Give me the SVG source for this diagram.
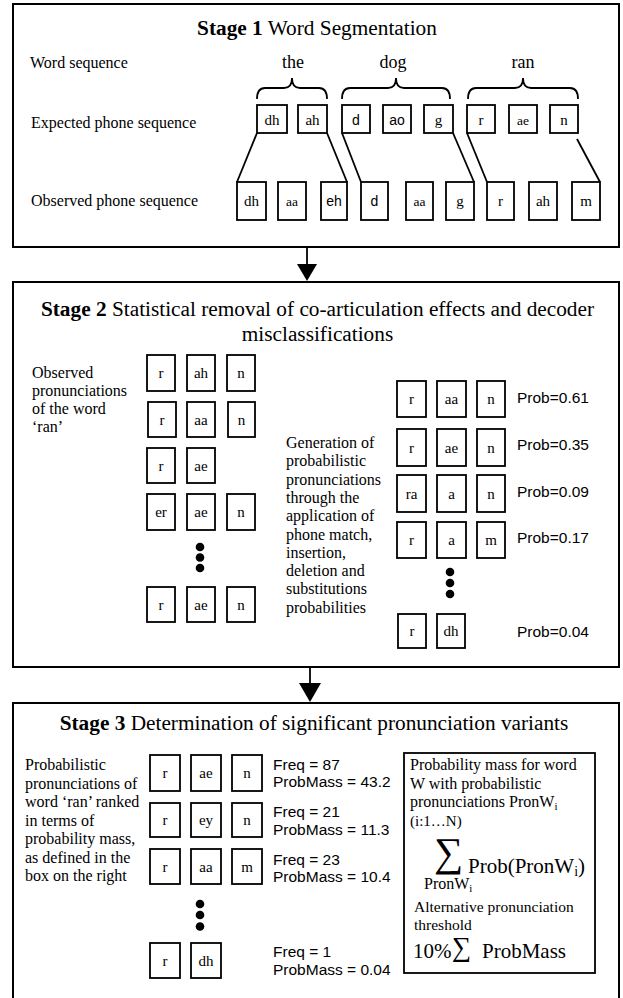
<svg xmlns="http://www.w3.org/2000/svg" width="623" height="998" viewBox="0 0 623 998">
<style>
.frame{fill:#fff;stroke:#000;stroke-width:2}
.ph rect{fill:#fff;stroke:#000;stroke-width:1.8}
.ph text{font-family:"Liberation Serif",serif;font-size:15px;text-anchor:middle}
.ph text.s{font-family:"Liberation Sans",sans-serif;font-size:14px}
.ph text.m{font-size:13.5px}
.t{font-family:"Liberation Serif",serif;font-size:21.3px}
.b{font-weight:bold}
.lab{font-family:"Liberation Serif",serif;font-size:16px}
.sans{font-family:"Liberation Sans",sans-serif;font-size:15.5px}
.ln{fill:none;stroke:#000;stroke-width:1.8}
.dot{fill:#000}
</style>
<rect width="623" height="998" fill="#fff"/>
<g id="stage1">
<rect class="frame" x="13" y="4" width="606" height="243"/>
<text class="t" x="317" y="35" text-anchor="middle"><tspan class="b">Stage 1</tspan> Word Segmentation</text>
<text class="lab" x="30" y="68">Word sequence</text>
<text class="lab" x="31" y="128">Expected phone sequence</text>
<text class="lab" x="31" y="206">Observed phone sequence</text>
<text class="lab" x="293" y="68" text-anchor="middle" style="font-size:18px">the</text>
<text class="lab" x="393" y="68" text-anchor="middle" style="font-size:18px">dog</text>
<text class="lab" x="523" y="68" text-anchor="middle" style="font-size:18px">ran</text>
<path class="ln" d="M257,99 Q257,88 265,88 L284,88 Q292,88 292,78 Q292,88 300,88 L319,88 Q327,88 327,99"/>
<path class="ln" d="M342,99 Q342,88 350,88 L388,88 Q396,88 396,78 Q396,88 404,88 L442,88 Q450,88 450,99"/>
<path class="ln" d="M468,99 Q468,88 476,88 L515,88 Q523,88 523,78 Q523,88 531,88 L570,88 Q578,88 578,99"/>
</g>
<g id="expected" class="ph">
<rect x="257" y="105" width="30" height="28"/><text x="272" y="125">dh</text>
<rect x="298" y="105" width="29" height="28"/><text x="312.5" y="125">ah</text>
<rect x="342" y="105" width="28" height="28"/><text class="s" x="356" y="125">d</text>
<rect x="383" y="105" width="28" height="28"/><text class="s" x="397" y="125">ao</text>
<rect x="424" y="105" width="29" height="28"/><text x="438.5" y="125">g</text>
<rect x="467" y="105" width="28" height="28"/><text x="481" y="125">r</text>
<rect x="509" y="105" width="28" height="28"/><text class="m" x="523" y="125">ae</text>
<rect x="550" y="105" width="28" height="28"/><text x="564" y="125">n</text>
</g>
<g id="observed" class="ph">
<rect x="237" y="182" width="29" height="38"/><text x="251.5" y="206">dh</text>
<rect x="278" y="182" width="28" height="38"/><text class="m" x="292" y="206">aa</text>
<rect x="321" y="182" width="26" height="38"/><text class="s" x="334" y="206">eh</text>
<rect x="361" y="182" width="27" height="38"/><text class="s" x="374.5" y="206">d</text>
<rect x="406" y="182" width="27" height="38"/><text class="m" x="419.5" y="206">aa</text>
<rect x="446" y="182" width="28" height="38"/><text x="460" y="206">g</text>
<rect x="487" y="182" width="27" height="38"/><text x="500.5" y="206">r</text>
<rect x="529" y="182" width="28" height="38"/><text x="543" y="206">ah</text>
<rect x="572" y="182" width="28" height="38"/><text x="586" y="206">m</text>
</g>
<g id="connectors">
<line class="ln" x1="257" y1="133" x2="237" y2="182"/>
<line class="ln" x1="327" y1="133" x2="347" y2="182"/>
<line class="ln" x1="342" y1="133" x2="361" y2="182"/>
<line class="ln" x1="453" y1="133" x2="474" y2="182"/>
<line class="ln" x1="467" y1="133" x2="487" y2="182"/>
<line class="ln" x1="577" y1="139" x2="600" y2="182"/>
<line class="ln" x1="307" y1="247" x2="307" y2="266"/>
<polygon points="297,264 317,264 307,281"/>
<line class="ln" x1="310" y1="667" x2="310" y2="685"/>
<polygon points="299,683 321,683 310,702"/>
<path class="ln" d="M259,401.5 L265,401.5 L265,438 L259,438"/>
<line class="ln" x1="265" y1="419" x2="387" y2="419"/>
<polygon points="316,412 331,419 316,426"/>
<path class="ln" d="M395,374 L387,374 L387,655 L395,655"/>
</g>
<g id="stage2">
<rect class="frame" x="13" y="282" width="606" height="385"/>
<text class="t" x="317.5" y="316" text-anchor="middle"><tspan class="b">Stage 2</tspan> Statistical removal of co-articulation effects and decoder</text>
<text class="t" x="317.5" y="341" text-anchor="middle">misclassifications</text>
<text class="lab" x="32"><tspan x="32" y="378">Observed</tspan><tspan x="32" y="396">pronunciations</tspan><tspan x="32" y="414">of the word</tspan><tspan x="32" y="432">‘ran’</tspan></text>
<text class="lab" x="286"><tspan x="286" y="448">Generation of</tspan><tspan x="286" y="466.3">probabilistic</tspan><tspan x="286" y="484.6">pronunciations</tspan><tspan x="286" y="502.9">through the</tspan><tspan x="286" y="521.2">application of</tspan><tspan x="286" y="539.5">phone match,</tspan><tspan x="286" y="557.8">insertion,</tspan><tspan x="286" y="576.1">deletion and</tspan><tspan x="286" y="594.4">substitutions</tspan><tspan x="286" y="612.7">probabilities</tspan></text>
</g>
<g id="observed-prons" class="ph">
<rect x="147" y="355" width="28" height="36"/><text x="161" y="378">r</text>
<rect x="187" y="355" width="28" height="36"/><text x="201" y="378">ah</text>
<rect x="227" y="355" width="28" height="36"/><text x="241" y="378">n</text>
<rect x="148" y="402" width="28" height="35"/><text x="162" y="424.5">r</text>
<rect x="187" y="402" width="28" height="35"/><text x="201" y="424.5">aa</text>
<rect x="228" y="402" width="27" height="35"/><text x="241.5" y="424.5">n</text>
<rect x="147" y="448" width="28" height="35"/><text x="161" y="470.5">r</text>
<rect x="187" y="448" width="28" height="35"/><text x="201" y="470.5">ae</text>
<rect x="147" y="494" width="28" height="36"/><text x="161" y="517">er</text>
<rect x="187" y="494" width="28" height="36"/><text x="201" y="517">ae</text>
<rect x="227" y="494" width="28" height="36"/><text x="241" y="517">n</text>
<rect x="147" y="587" width="28" height="35"/><text x="161" y="609.5">r</text>
<rect x="187" y="587" width="28" height="35"/><text x="201" y="609.5">ae</text>
<rect x="227" y="587" width="28" height="35"/><text x="241" y="609.5">n</text>
<circle class="dot" cx="200" cy="547" r="4.3"/><circle class="dot" cx="200" cy="557.5" r="4.3"/><circle class="dot" cx="200" cy="568" r="4.3"/>
</g>
<g id="prob-prons" class="ph">
<rect x="397" y="381" width="29" height="36"/><text x="411.5" y="404">r</text>
<rect x="437" y="381" width="29" height="36"/><text x="451.5" y="404">aa</text>
<rect x="477" y="381" width="28" height="36"/><text x="491" y="404">n</text>
<rect x="397" y="429" width="29" height="37"/><text x="411.5" y="452.5">r</text>
<rect x="437" y="429" width="29" height="37"/><text x="451.5" y="452.5">ae</text>
<rect x="477" y="429" width="28" height="37"/><text x="491" y="452.5">n</text>
<rect x="397" y="475" width="29" height="37"/><text x="411.5" y="498.5">ra</text>
<rect x="437" y="475" width="29" height="37"/><text x="451.5" y="498.5">a</text>
<rect x="477" y="475" width="28" height="37"/><text x="491" y="498.5">n</text>
<rect x="397" y="522" width="29" height="36"/><text x="411.5" y="545">r</text>
<rect x="437" y="522" width="29" height="36"/><text x="451.5" y="545">a</text>
<rect x="477" y="522" width="28" height="36"/><text x="491" y="545">m</text>
<rect x="398" y="614" width="28" height="34"/><text x="412" y="636">r</text>
<rect x="437" y="614" width="28" height="34"/><text x="451" y="636">dh</text>
<circle class="dot" cx="450" cy="572" r="4.3"/><circle class="dot" cx="450" cy="583" r="4.3"/><circle class="dot" cx="450" cy="594" r="4.3"/>
</g>
<g id="prob-values">
<text class="sans" x="517" y="403">Prob=0.61</text>
<text class="sans" x="517" y="450">Prob=0.35</text>
<text class="sans" x="517" y="497">Prob=0.09</text>
<text class="sans" x="517" y="543">Prob=0.17</text>
<text class="sans" x="517" y="637">Prob=0.04</text>
</g>
<g id="stage3">
<rect class="frame" x="13" y="703" width="606" height="300"/>
<text class="t" x="314" y="730" text-anchor="middle"><tspan class="b">Stage 3</tspan> Determination of significant pronunciation variants</text>
<text class="lab"><tspan x="25" y="770">Probabilistic</tspan><tspan x="25" y="788.5">pronunciations of</tspan><tspan x="25" y="807">word ‘ran’ ranked</tspan><tspan x="25" y="825.5">in terms of</tspan><tspan x="25" y="844">probability mass,</tspan><tspan x="25" y="862.5">as defined in the</tspan><tspan x="25" y="881">box on the right</tspan></text>
</g>
<g id="ranked-prons" class="ph">
<rect x="150" y="755" width="30" height="36"/><text x="165" y="778">r</text>
<rect x="191" y="755" width="30" height="36"/><text x="206" y="778">ae</text>
<rect x="232" y="755" width="30" height="36"/><text x="247" y="778">n</text>
<rect x="150" y="803" width="30" height="34"/><text x="165" y="825">r</text>
<rect x="191" y="803" width="30" height="34"/><text x="206" y="825">ey</text>
<rect x="232" y="803" width="30" height="34"/><text x="247" y="825">n</text>
<rect x="150" y="849" width="30" height="35"/><text x="165" y="871.5">r</text>
<rect x="191" y="849" width="30" height="35"/><text x="206" y="871.5">aa</text>
<rect x="232" y="849" width="30" height="35"/><text x="247" y="871.5">m</text>
<rect x="150" y="943" width="30" height="35"/><text x="165" y="965.5">r</text>
<rect x="191" y="943" width="30" height="35"/><text x="206" y="965.5">dh</text>
<circle class="dot" cx="200" cy="904" r="4.3"/><circle class="dot" cx="200" cy="915" r="4.3"/><circle class="dot" cx="200" cy="926.5" r="4.3"/>
</g>
<g id="freq-values">
<text class="sans"><tspan x="273" y="770">Freq = 87</tspan><tspan x="273" y="787">ProbMass = 43.2</tspan></text>
<text class="sans"><tspan x="273" y="817">Freq = 21</tspan><tspan x="273" y="835">ProbMass = 11.3</tspan></text>
<text class="sans"><tspan x="273" y="865">Freq = 23</tspan><tspan x="273" y="882">ProbMass = 10.4</tspan></text>
<text class="sans"><tspan x="273" y="957">Freq = 1</tspan><tspan x="273" y="975">ProbMass = 0.04</tspan></text>
</g>
<g id="mass-box">
<rect x="404" y="753" width="191" height="220" fill="#fff" stroke="#000" stroke-width="1.8"/>
<text class="lab"><tspan x="410" y="770">Probability mass for word</tspan><tspan x="410" y="788.5">W with probabilistic</tspan><tspan x="410" y="807">pronunciations PronW</tspan><tspan style="font-size:11px" dy="3">i</tspan></text>
<text class="lab" x="410" y="826" style="font-size:15px">(i:1…N)</text>
<text class="lab" x="434" y="866" style="font-size:41px">∑</text>
<text class="lab" x="468" y="873" style="font-size:21px">Prob(PronW<tspan style="font-size:14px" dy="3">i</tspan><tspan dy="-3">)</tspan></text>
<text class="lab" x="424" y="889">PronW<tspan style="font-size:11px" dy="3">i</tspan></text>
<text class="lab" style="font-size:15.5px"><tspan x="414" y="911.5">Alternative pronunciation</tspan><tspan x="414" y="930">threshold</tspan></text>
<text class="lab" x="413" y="958" style="font-size:21px">10%</text>
<text class="lab" x="452" y="956" style="font-size:27px">∑</text>
<text class="lab" x="482" y="958" style="font-size:21px">ProbMass</text>
</g>
</svg>
